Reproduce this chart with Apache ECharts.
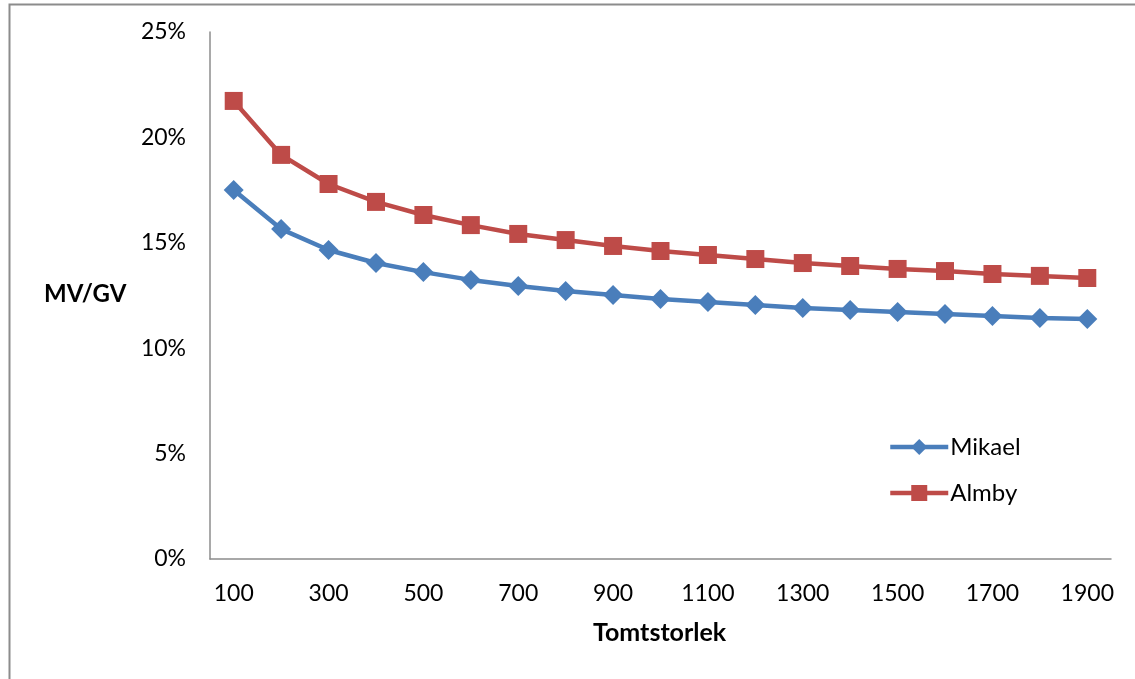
<!DOCTYPE html>
<html>
<head>
<meta charset="utf-8">
<style>
  html, body { margin: 0; padding: 0; background: #fff; }
  #chart { width: 1135px; height: 679px; }
</style>
<script src="https://cdn.jsdelivr.net/npm/echarts@6/dist/echarts.min.js"></script>
</head>
<body>
<div id="chart"></div>
<script>
// Plot size (m²) on the x axis
const categories = ['100','200','300','400','500','600','700','800','900','1000',
                    '1100','1200','1300','1400','1500','1600','1700','1800','1900'];
// MV/GV ratio in percent
const mikael = [17.50, 15.65, 14.66, 14.04, 13.61, 13.24, 12.95, 12.71, 12.52, 12.33,
                12.19, 12.05, 11.91, 11.81, 11.72, 11.62, 11.53, 11.43, 11.39];
const almby  = [21.73, 19.17, 17.79, 16.94, 16.32, 15.84, 15.42, 15.13, 14.85, 14.61,
                14.42, 14.23, 14.04, 13.90, 13.76, 13.66, 13.52, 13.43, 13.33];

const FONT = 'Lato, "Open Sans", sans-serif';
const chart = echarts.init(document.getElementById('chart'));

chart.setOption({
  backgroundColor: '#fff',
  animation: false,
  grid: { left: 210, right: 24, top: 32, bottom: 120, containLabel: false },
  legend: {
    orient: 'vertical',
    left: 883,
    top: 430,
    itemWidth: 58,
    itemHeight: 20,
    itemGap: 22,
    lineStyle: { width: 4.5 },
    textStyle: { fontFamily: FONT, fontSize: 24, color: '#000', padding: [0, 0, 0, -3] },
    data: ['Mikael', 'Almby']
  },
  xAxis: {
    type: 'category',
    data: categories,
    boundaryGap: true,
    axisLine: { lineStyle: { color: '#8c8c8c', width: 1.5 } },
    axisTick: { show: false },
    axisLabel: { interval: 1, color: '#000', fontFamily: FONT, fontSize: 23, margin: 23 },
    splitLine: { show: false }
  },
  yAxis: {
    type: 'value',
    min: 0, max: 25, interval: 5,
    axisLine: { show: true, lineStyle: { color: '#8c8c8c', width: 1.5 } },
    axisTick: { show: false },
    axisLabel: { formatter: '{value}%', color: '#000', fontFamily: FONT, fontSize: 23, margin: 24 },
    splitLine: { show: false }
  },
  graphic: [
    { type: 'rect', left: 7, top: 2, shape: { width: 1140, height: 690 },
      style: { fill: 'none', stroke: '#8c8c8c', lineWidth: 2 }, silent: true },
    { type: 'text', left: 44, top: 282,
      style: { text: 'MV/GV', font: 'bold 24px ' + FONT, fill: '#000' } },
    { type: 'text', left: 593, top: 620,
      style: { text: 'Tomtstorlek', font: 'bold 25px ' + FONT, fill: '#000' } }
  ],
  series: [
    {
      name: 'Mikael', type: 'line', data: mikael,
      symbol: 'diamond', symbolSize: 20,
      lineStyle: { color: '#4a7ebb', width: 4.5 },
      itemStyle: { color: '#4a7ebb' }
    },
    {
      name: 'Almby', type: 'line', data: almby,
      symbol: 'rect', symbolSize: 18,
      lineStyle: { color: '#be4b48', width: 4.5 },
      itemStyle: { color: '#be4b48' }
    }
  ]
});
</script>
</body>
</html>
